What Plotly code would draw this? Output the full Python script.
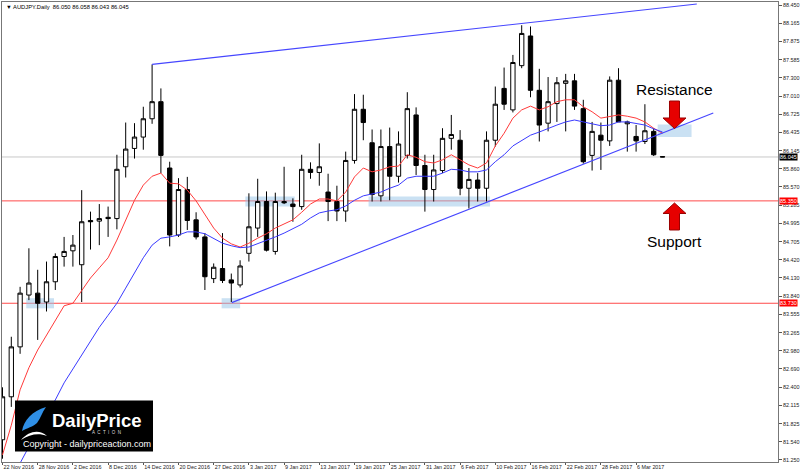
import plotly.graph_objects as go

# ---------------- data ----------------
bar_index = list(range(76))
tick_index = list(range(0, 73, 4))
tick_labels = ["22 Nov 2016", "28 Nov 2016", "2 Dec 2016", "8 Dec 2016", "14 Dec 2016",
               "20 Dec 2016", "27 Dec 2016", "3 Jan 2017", "9 Jan 2017", "13 Jan 2017",
               "19 Jan 2017", "25 Jan 2017", "31 Jan 2017", "6 Feb 2017", "10 Feb 2017",
               "16 Feb 2017", "22 Feb 2017", "28 Feb 2017", "6 Mar 2017"]

opens = [81.57, 82.25, 83.04, 83.86, 83.89, 83.75, 84.07, 84.47, 84.56, 84.34,
         85.04, 85.03, 85.09, 85.07, 85.89, 86.18, 86.36, 86.65, 86.92, 85.87,
         84.81, 85.53, 85.05, 84.78, 84.12, 84.28, 84.10, 84.02, 84.52, 84.92,
         85.34, 84.55, 85.34, 85.30, 85.26, 85.85, 85.80, 85.49, 85.34, 85.19,
         85.99, 86.80, 86.27, 85.43, 86.21, 85.74, 86.07, 86.71, 85.91, 85.53,
         85.83, 86.34, 86.31, 85.55, 85.68, 85.55, 86.31, 87.13, 86.79, 87.49,
         87.96, 87.10, 86.58, 86.89, 87.21, 87.25, 86.81, 86.07, 86.39, 86.30,
         87.26, 86.57, 86.37, 86.29, 86.45, 86.050]
highs = [82.40, 83.20, 83.99, 84.60, 84.26, 84.39, 84.52, 84.78, 84.81, 85.52,
         85.18, 85.30, 85.26, 86.08, 86.59, 86.58, 86.84, 87.51, 87.13, 85.97,
         85.71, 85.73, 85.17, 84.84, 84.36, 84.84, 84.20, 84.41, 85.47, 85.70,
         85.50, 85.48, 85.89, 85.39, 86.08, 85.96, 86.26, 85.78, 85.59, 86.13,
         87.04, 87.03, 86.48, 86.48, 86.51, 86.45, 87.07, 86.83, 86.08, 86.08,
         86.50, 86.71, 86.47, 85.87, 85.79, 86.45, 87.16, 87.46, 87.66, 88.13,
         88.11, 87.44, 87.31, 87.31, 87.36, 87.36, 86.95, 86.60, 86.59, 87.32,
         87.45, 86.62, 86.55, 86.88, 86.50, 86.058]
lows = [81.27, 82.09, 82.93, 83.78, 83.15, 83.60, 83.94, 84.31, 84.31, 83.75,
        84.58, 84.65, 84.78, 84.90, 85.72, 86.02, 86.16, 86.57, 85.79, 84.63,
        84.78, 84.89, 84.74, 83.94, 84.05, 84.05, 83.75, 83.98, 84.39, 84.78,
        84.55, 84.50, 85.30, 85.02, 85.21, 85.70, 85.59, 85.03, 85.03, 85.02,
        85.94, 86.31, 85.34, 85.34, 85.36, 85.64, 86.02, 85.76, 85.18, 85.34,
        85.79, 86.16, 85.44, 85.23, 85.34, 85.34, 86.21, 86.79, 86.75, 87.45,
        86.99, 86.29, 86.45, 86.60, 86.45, 86.79, 85.94, 85.83, 85.84, 86.22,
        86.60, 86.13, 86.13, 86.25, 86.06, 86.043]
closes = [82.25, 83.04, 83.89, 84.05, 83.73, 84.07, 84.47, 84.55, 84.65, 85.02,
          85.02, 85.07, 85.07, 85.85, 86.17, 86.36, 86.65, 86.92, 86.07, 84.81,
          85.53, 85.04, 84.78, 84.15, 84.30, 84.09, 84.05, 84.32, 84.94, 85.34,
          84.57, 85.34, 85.32, 85.26, 85.85, 85.80, 85.89, 85.34, 85.19, 85.99,
          86.80, 86.59, 85.45, 86.21, 85.74, 86.25, 86.81, 85.91, 85.53, 85.84,
          86.34, 86.40, 85.55, 85.69, 85.55, 86.31, 86.88, 86.88, 87.54, 88.00,
          87.10, 86.55, 86.92, 87.22, 87.25, 86.85, 85.97, 86.45, 86.31, 87.26,
          86.60, 86.60, 86.30, 86.46, 86.08, 86.045]

ma_fast = [81.33, 81.80, 82.36, 82.71, 82.99, 83.23, 83.47, 83.69, 83.73, 83.94,
           84.13, 84.29, 84.45, 84.73, 85.05, 85.36, 85.60, 85.74, 85.79, 85.63,
           85.62, 85.52, 85.35, 85.14, 84.92, 84.76, 84.67, 84.62, 84.68, 84.76,
           84.83, 84.92, 84.98, 85.05, 85.17, 85.30, 85.38, 85.38, 85.35, 85.49,
           85.73, 85.87, 85.81, 85.84, 85.89, 85.90, 86.08, 86.04, 85.97, 85.95,
           86.00, 86.08, 86.00, 85.92, 85.87, 85.95, 86.22, 86.42, 86.66, 86.79,
           86.85, 86.79, 86.84, 86.92, 86.95, 86.95, 86.84, 86.76, 86.66, 86.69,
           86.71, 86.69, 86.66, 86.60, 86.50, 86.42]
ma_slow = [79.98, 80.62, 81.20, 81.46, 81.72, 81.98, 82.20, 82.47, 82.69, 82.91,
           83.15, 83.35, 83.54, 83.73, 83.97, 84.21, 84.45, 84.65, 84.76, 84.78,
           84.81, 84.86, 84.86, 84.83, 84.76, 84.68, 84.64, 84.61, 84.62, 84.67,
           84.72, 84.78, 84.84, 84.91, 84.98, 85.08, 85.16, 85.19, 85.21, 85.27,
           85.36, 85.43, 85.46, 85.49, 85.55, 85.60, 85.71, 85.74, 85.74, 85.74,
           85.79, 85.85, 85.84, 85.81, 85.81, 85.84, 85.97, 86.08, 86.22, 86.31,
           86.39, 86.44, 86.50, 86.55, 86.60, 86.63, 86.60, 86.57, 86.54, 86.55,
           86.60, 86.60, 86.58, 86.55, 86.49, 86.44]

upper_line_x = [17, 78.9]
upper_line_y = [87.51, 88.466]
lower_line_x = [26.05, 80.77]
lower_line_y = [83.74, 86.74]

level_prices = [85.350, 83.730]
level_labels = ["85.350", "83.730"]
current_price = 86.045
current_label = "86.045"

zone_x0 = [2.7, 24.9, 27.6, 41.6, 74.45]
zone_x1 = [5.85, 27.0, 33.2, 55.4, 78.3]
zone_y0 = [83.65, 83.65, 85.26, 85.26, 86.36]
zone_y1 = [83.81, 83.81, 85.42, 85.42, 86.56]

y_tick_vals = [88.450, 88.165, 87.875, 87.585, 87.300, 87.010, 86.725, 86.435, 86.145,
               85.860, 85.570, 85.285, 84.995, 84.705, 84.420, 84.130, 83.840, 83.555,
               83.265, 82.980, 82.690, 82.400, 82.115, 81.825, 81.540, 81.250]
y_tick_text = ["%.3f" % v for v in y_tick_vals]

title_text = "\u25bc AUDJPY.Daily  86.050 86.058 86.043 86.045"

# ---------------- geometry helpers (pixel -> paper) ----------------
W, H = 800, 473
L_PX, R_PX, T_PX, B_PX = 2, 778, 2, 462
X_RANGE = [-0.057, 88.125]
Y_RANGE = [81.218, 88.4975]


def pxx(x):
    return (x - L_PX) / (R_PX - L_PX)


def pxy(y):
    return (B_PX - y) / (B_PX - T_PX)


def make_path(cmds):
    out = []
    for c, pts in cmds:
        seg = c
        seg += " ".join("%.5f,%.5f" % (pxx(a), pxy(b)) for a, b in pts)
        out.append(seg)
    return " ".join(out)


fig = go.Figure()

fig.add_trace(go.Candlestick(
    x=bar_index, open=opens, high=highs, low=lows, close=closes,
    increasing=dict(line=dict(color="#000000", width=1), fillcolor="#ffffff"),
    decreasing=dict(line=dict(color="#000000", width=1), fillcolor="#000000"),
    whiskerwidth=0, showlegend=False, hoverinfo="skip"))

fig.add_trace(go.Scatter(x=bar_index, y=ma_fast, mode="lines",
                         line=dict(color="#ff3a3a", width=1), showlegend=False, hoverinfo="skip"))
fig.add_trace(go.Scatter(x=bar_index, y=ma_slow, mode="lines",
                         line=dict(color="#3a3aff", width=1), showlegend=False, hoverinfo="skip"))
fig.add_trace(go.Scatter(x=upper_line_x, y=upper_line_y, mode="lines",
                         line=dict(color="#4646ff", width=1.1), showlegend=False, hoverinfo="skip"))
fig.add_trace(go.Scatter(x=lower_line_x, y=lower_line_y, mode="lines",
                         line=dict(color="#4646ff", width=1.1), showlegend=False, hoverinfo="skip"))

shapes = []
for x0, x1, y0, y1 in zip(zone_x0, zone_x1, zone_y0, zone_y1):
    shapes.append(dict(type="rect", xref="x", yref="y", x0=x0, x1=x1, y0=y0, y1=y1,
                       fillcolor="rgba(150,196,232,0.5)", line=dict(width=0), layer="below"))
shapes.append(dict(type="line", xref="paper", yref="y", x0=0, x1=1, y0=current_price, y1=current_price,
                   line=dict(color="#c8c8c8", width=1), layer="below"))
for p in level_prices:
    shapes.append(dict(type="line", xref="paper", yref="y", x0=0, x1=1, y0=p, y1=p,
                       line=dict(color="#ff4a4a", width=1), layer="below"))

arrow_down = [("M", [(669.5, 101)]), ("L", [(679.5, 101)]), ("L", [(679.5, 118)]),
              ("L", [(686, 118)]), ("L", [(674.5, 128.5)]), ("L", [(663, 118)]),
              ("L", [(669.5, 118)]), ("Z", [])]
arrow_up = [("M", [(669.5, 230)]), ("L", [(679.5, 230)]), ("L", [(679.5, 213.5)]),
            ("L", [(686, 213.5)]), ("L", [(674.5, 203)]), ("L", [(663, 213.5)]),
            ("L", [(669.5, 213.5)]), ("Z", [])]
for a in (arrow_down, arrow_up):
    shapes.append(dict(type="path", xref="paper", yref="paper", path=make_path(a),
                       fillcolor="#e60000", line=dict(color="#9a0000", width=1), layer="above"))

shapes.append(dict(type="rect", xref="paper", yref="paper", x0=pxx(15), x1=pxx(153),
                   y0=pxy(451.5), y1=pxy(400.5), fillcolor="#000000", line=dict(width=0), layer="above"))
feather = [("M", [(22, 431)]), ("C", [(24, 420), (32, 411), (46, 407)]),
           ("C", [(42, 412), (41, 418), (37, 423)]), ("C", [(33, 427), (27, 428), (22, 431)]), ("Z", [])]
shapes.append(dict(type="path", xref="paper", yref="paper", path=make_path(feather),
                   fillcolor="#2f8fe6", line=dict(width=0), layer="above"))
swoosh = [("M", [(21, 440)]), ("C", [(29, 431), (39, 429), (47, 436)]),
          ("C", [(39, 433), (30, 434), (21, 440)]), ("Z", [])]
shapes.append(dict(type="path", xref="paper", yref="paper", path=make_path(swoosh),
                   fillcolor="#ffffff", line=dict(width=0), layer="above"))

annotations = []
annotations.append(dict(xref="paper", yref="paper", x=pxx(4), y=pxy(6.5), xanchor="left", yanchor="middle",
                        text=title_text, showarrow=False,
                        font=dict(family="Liberation Sans", size=5.8, color="#000000")))
annotations.append(dict(xref="paper", yref="y", x=pxx(778.5), y=current_price, xanchor="left",
                        yanchor="middle", text=current_label, showarrow=False, bgcolor="#000000",
                        borderpad=0, font=dict(family="Liberation Sans", size=5.5, color="#ffffff")))
for p, t in zip(level_prices, level_labels):
    annotations.append(dict(xref="paper", yref="y", x=pxx(778.5), y=p, xanchor="left",
                            yanchor="middle", text=t, showarrow=False, bgcolor="#ff0000",
                            borderpad=0, font=dict(family="Liberation Sans", size=5.5, color="#ffffff")))
annotations.append(dict(xref="paper", yref="paper", x=pxx(674), y=pxy(89), text="Resistance",
                        showarrow=False, xanchor="center", yanchor="middle",
                        font=dict(family="Liberation Sans", size=15.5, color="#000000")))
annotations.append(dict(xref="paper", yref="paper", x=pxx(674), y=pxy(241.5), text="Support",
                        showarrow=False, xanchor="center", yanchor="middle",
                        font=dict(family="Liberation Sans", size=15.5, color="#000000")))
annotations.append(dict(xref="paper", yref="paper", x=pxx(50), y=pxy(420), text="<b>DailyPrice</b>",
                        showarrow=False, xanchor="left", yanchor="middle",
                        font=dict(family="Liberation Sans", size=18.5, color="#ffffff")))
annotations.append(dict(xref="paper", yref="paper", x=pxx(90), y=pxy(432), text="A  C  T  I  O  N",
                        showarrow=False, xanchor="left", yanchor="middle",
                        font=dict(family="Liberation Sans", size=4.5, color="#dddddd")))
annotations.append(dict(xref="paper", yref="paper", x=pxx(20.5), y=pxy(444), text="Copyright - dailypriceaction.com",
                        showarrow=False, xanchor="left", yanchor="middle",
                        font=dict(family="Liberation Sans", size=9, color="#ffffff")))

fig.update_layout(
    width=W, height=H,
    margin=dict(l=L_PX, r=W - R_PX, t=T_PX, b=H - B_PX, pad=0),
    paper_bgcolor="#ffffff", plot_bgcolor="#ffffff",
    showlegend=False,
    shapes=shapes, annotations=annotations,
    xaxis=dict(range=X_RANGE, tickmode="array", tickvals=tick_index, ticktext=tick_labels,
               ticks="outside", ticklen=2, tickcolor="#555555", ticklabelposition="outside right",
               tickangle=0, ticklabelstandoff=0,
               tickfont=dict(family="Liberation Sans", size=5.4, color="#222222"),
               showgrid=False, zeroline=False, showline=True, linecolor="#777777", linewidth=1,
               mirror=True, rangeslider=dict(visible=False), automargin=False, fixedrange=True),
    yaxis=dict(range=Y_RANGE, side="right", tickmode="array", tickvals=y_tick_vals, ticktext=y_tick_text,
               ticks="outside", ticklen=3, tickcolor="#555555",
               tickfont=dict(family="Liberation Sans", size=5.4, color="#222222"),
               showgrid=False, zeroline=False, showline=True, linecolor="#777777", linewidth=1,
               mirror=True, automargin=False, fixedrange=True),
)

fig.write_html("out.html")
